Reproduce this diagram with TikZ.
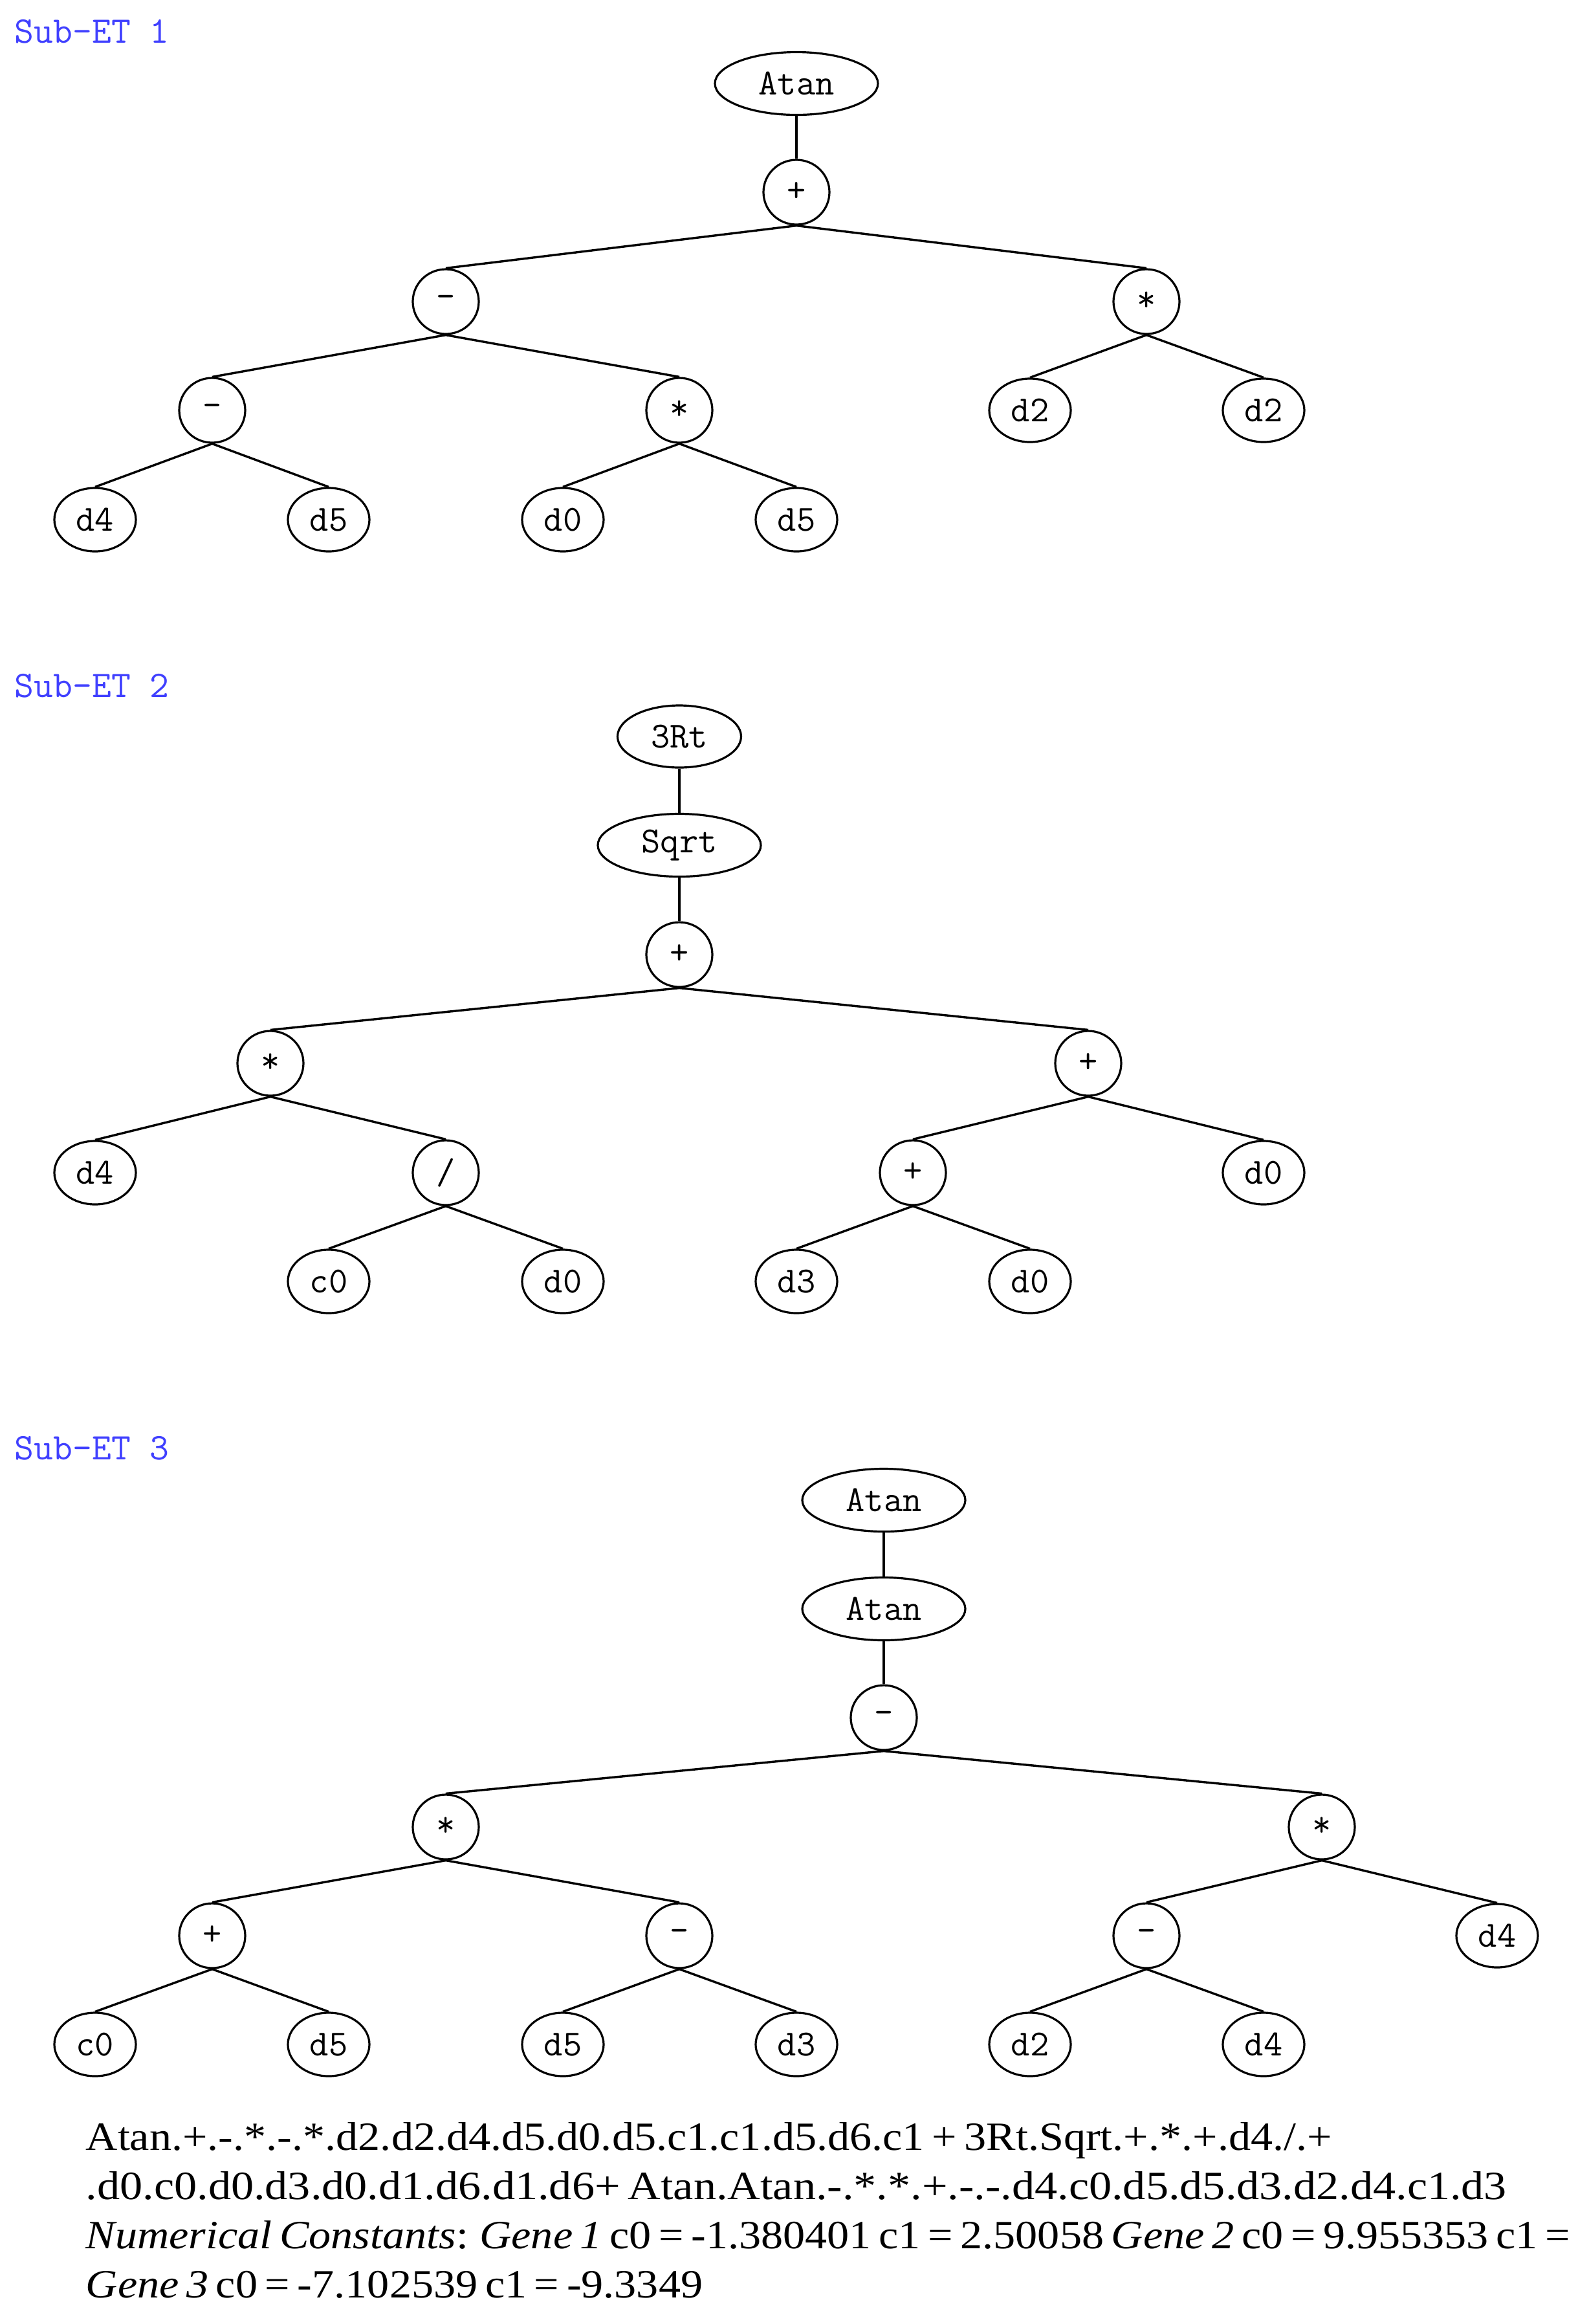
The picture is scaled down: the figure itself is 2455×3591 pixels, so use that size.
\documentclass[tikz,border=0pt]{standalone}
\usepackage{fontspec}
\setmainfont{Liberation Serif}[FakeStretch=1.1, WordSpace=0.68]
\usetikzlibrary{shapes.geometric}
\definecolor{labelblue}{RGB}{64,64,255}
\begin{document}
\begin{tikzpicture}[x=0.25pt,y=-0.25pt,
  every node/.style={inner sep=0pt},
  nodefont/.style={font=\ttfamily\fontsize{14.2}{16}\selectfont},
  leaf/.style={draw, ellipse, nodefont, line width=0.8pt, minimum width=31.5pt, minimum height=24.5pt},
  op/.style={draw, ellipse, nodefont, line width=0.8pt, minimum width=25.5pt, minimum height=25pt},
  fn/.style={draw, ellipse, nodefont, line width=0.8pt, minimum width=63pt, minimum height=24.25pt},
  fnsmall/.style={draw, ellipse, nodefont, line width=0.8pt, minimum width=47.75pt, minimum height=24pt},
  edge/.style={line width=0.85pt},
  etlabel/.style={anchor=base west, text=labelblue, font=\ttfamily\fontsize{14.5}{16}\selectfont},
  formula/.style={anchor=base west, font=\fontsize{15.5}{19}\selectfont}
]
\useasboundingbox (0,0) rectangle (2455,3591);
\fill[white] (0,0) rectangle (2455,3591);

% ---------- Sub-ET 1 ----------
\node[etlabel] (lab1) at (22,66) {Sub-ET 1};
\node[fn] (a1) at (1231,129) {Atan};
\node[op] (a2) at (1231,297) {+};
\node[op] (a3) at (689,466) {-};
\node[op] (a4) at (1772,466) {*};
\node[op] (a5) at (328,634) {-};
\node[op] (a6) at (1050,634) {*};
\node[leaf] (a7) at (1592,634) {d2};
\node[leaf] (a8) at (1953,634) {d2};
\node[leaf] (a9) at (147,803) {d4};
\node[leaf] (a10) at (508,803) {d5};
\node[leaf] (a11) at (870,803) {d0};
\node[leaf] (a12) at (1231,803) {d5};
\draw[edge] (a1.south) -- (a2.north);
\draw[edge] (a2.south) -- (a3.north);
\draw[edge] (a2.south) -- (a4.north);
\draw[edge] (a3.south) -- (a5.north);
\draw[edge] (a3.south) -- (a6.north);
\draw[edge] (a4.south) -- (a7.north);
\draw[edge] (a4.south) -- (a8.north);
\draw[edge] (a5.south) -- (a9.north);
\draw[edge] (a5.south) -- (a10.north);
\draw[edge] (a6.south) -- (a11.north);
\draw[edge] (a6.south) -- (a12.north);

% ---------- Sub-ET 2 ----------
\node[etlabel] (lab2) at (22,1077) {Sub-ET 2};
\node[fnsmall] (b1) at (1050,1138) {3Rt};
\node[fn] (b2) at (1050,1306) {Sqrt};
\node[op] (b3) at (1050,1475) {+};
\node[op] (b4) at (418,1643) {*};
\node[op] (b5) at (1682,1643) {+};
\node[leaf] (b6) at (147,1812) {d4};
\node[op] (b7) at (689,1812) {/};
\node[op] (b8) at (1411,1812) {+};
\node[leaf] (b9) at (1953,1812) {d0};
\node[leaf] (b10) at (508,1980) {c0};
\node[leaf] (b11) at (870,1980) {d0};
\node[leaf] (b12) at (1231,1980) {d3};
\node[leaf] (b13) at (1592,1980) {d0};
\draw[edge] (b1.south) -- (b2.north);
\draw[edge] (b2.south) -- (b3.north);
\draw[edge] (b3.south) -- (b4.north);
\draw[edge] (b3.south) -- (b5.north);
\draw[edge] (b4.south) -- (b6.north);
\draw[edge] (b4.south) -- (b7.north);
\draw[edge] (b5.south) -- (b8.north);
\draw[edge] (b5.south) -- (b9.north);
\draw[edge] (b7.south) -- (b10.north);
\draw[edge] (b7.south) -- (b11.north);
\draw[edge] (b8.south) -- (b12.north);
\draw[edge] (b8.south) -- (b13.north);

% ---------- Sub-ET 3 ----------
\node[etlabel] (lab3) at (22,2255) {Sub-ET 3};
\node[fn] (c1) at (1366,2318) {Atan};
\node[fn] (c2) at (1366,2486) {Atan};
\node[op] (c3) at (1366,2654) {-};
\node[op] (c4) at (689,2823) {*};
\node[op] (c5) at (2043,2823) {*};
\node[op] (c6) at (328,2991) {+};
\node[op] (c7) at (1050,2991) {-};
\node[op] (c8) at (1772,2991) {-};
\node[leaf] (c9) at (2314,2991) {d4};
\node[leaf] (c10) at (147,3159) {c0};
\node[leaf] (c11) at (508,3159) {d5};
\node[leaf] (c12) at (870,3159) {d5};
\node[leaf] (c13) at (1231,3159) {d3};
\node[leaf] (c14) at (1592,3159) {d2};
\node[leaf] (c15) at (1953,3159) {d4};
\draw[edge] (c1.south) -- (c2.north);
\draw[edge] (c2.south) -- (c3.north);
\draw[edge] (c3.south) -- (c4.north);
\draw[edge] (c3.south) -- (c5.north);
\draw[edge] (c4.south) -- (c6.north);
\draw[edge] (c4.south) -- (c7.north);
\draw[edge] (c5.south) -- (c8.north);
\draw[edge] (c5.south) -- (c9.north);
\draw[edge] (c6.south) -- (c10.north);
\draw[edge] (c6.south) -- (c11.north);
\draw[edge] (c7.south) -- (c12.north);
\draw[edge] (c7.south) -- (c13.north);
\draw[edge] (c8.south) -- (c14.north);
\draw[edge] (c8.south) -- (c15.north);

% ---------- Formula text ----------
\node[formula] (f1) at (132,3322) {Atan.+.-.*.-.*.d2.d2.d4.d5.d0.d5.c1.c1.d5.d6.c1 + 3Rt.Sqrt.+.*.+.d4./.+};
\node[formula] (f2) at (132,3398) {\scalebox{1.03}[1]{.d0.c0.d0.d3.d0.d1.d6.d1.d6+ Atan.Atan.-.*.*.+.-.-.d4.c0.d5.d5.d3.d2.d4.c1.d3}};
\node[formula] (f3) at (132,3474) {\textit{Numerical Constants}: \textit{Gene 1} c0 = -1.380401 c1 = 2.50058 \textit{Gene 2} c0 = 9.955353 c1 =};
\node[formula] (f4) at (132,3550) {\textit{Gene 3} c0 = -7.102539 c1 = -9.3349};
\end{tikzpicture}
\end{document}
